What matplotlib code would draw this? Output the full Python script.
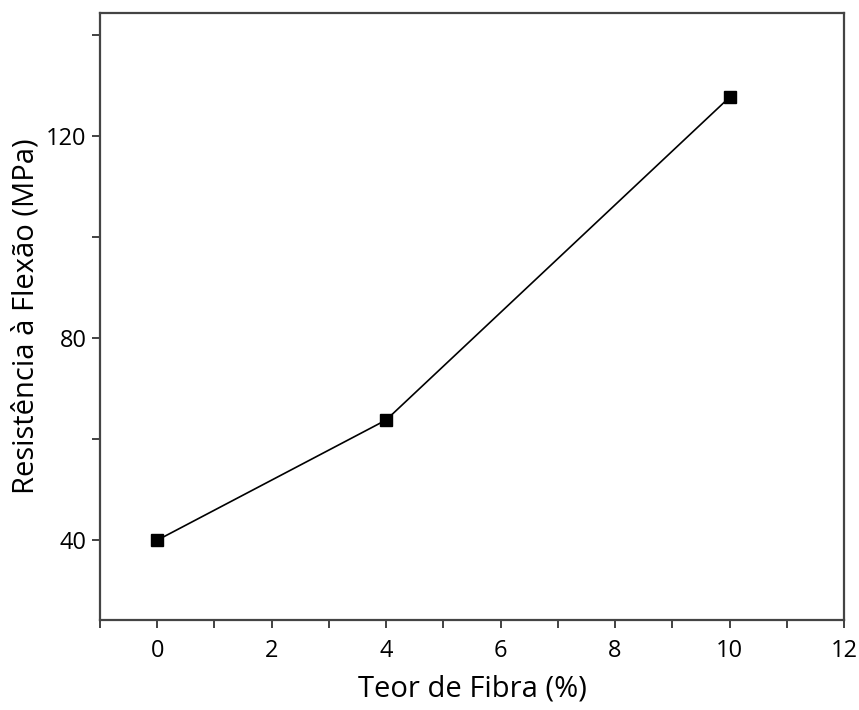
import matplotlib
matplotlib.use("Agg")
import matplotlib.pyplot as plt
from matplotlib.ticker import MultipleLocator

plt.rcParams['font.family'] = ['Open Sans', 'DejaVu Sans']

teor = [0, 4, 10]
resistencia = [40, 63.8, 127.7]

fig = plt.figure(figsize=(8.59, 7.10), dpi=100)
ax = fig.add_axes([0.1164, 0.1268, 0.8661, 0.8549])

ax.plot(teor, resistencia, color='black', lw=1.2, marker='s', ms=8.5,
        mfc='black', mec='black')

ax.set_xlim(-1, 12)
ax.set_ylim(24.2, 144.4)
ax.xaxis.set_major_locator(MultipleLocator(2))
ax.xaxis.set_minor_locator(MultipleLocator(1))
ax.yaxis.set_major_locator(MultipleLocator(40))
ax.yaxis.set_minor_locator(MultipleLocator(20))
ax.tick_params(which='both', direction='out', length=6, width=1.3,
               labelsize=17, color='#333333')
ax.tick_params(axis='x', pad=8)

for s in ax.spines.values():
    s.set_linewidth(1.6)
    s.set_color('#444444')

ax.set_xlabel('Teor de Fibra (%)', fontsize=21, labelpad=8)
ax.set_ylabel('Resistência à Flexão (MPa)', fontsize=21, labelpad=4)

fig.savefig('out.png', dpi=100)
